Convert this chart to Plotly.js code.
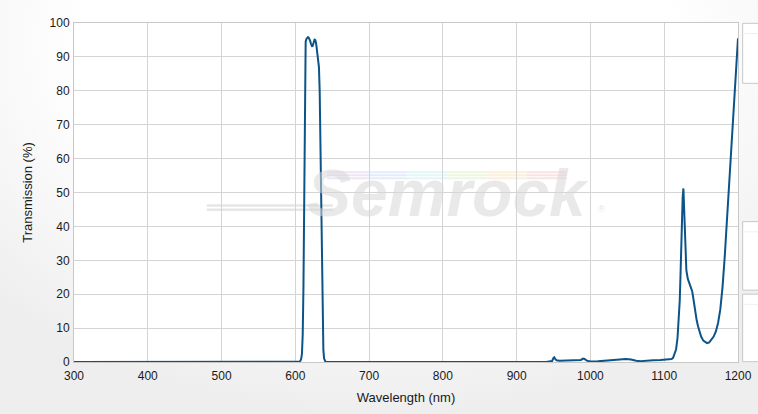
<!DOCTYPE html>
<html>
<head>
<meta charset="utf-8">
<script src="https://cdn.plot.ly/plotly-3.0.1.min.js"></script>
<style>
  html, body { margin: 0; padding: 0; }
  body {
    width: 758px; height: 414px; overflow: hidden;
    background: radial-gradient(ellipse 70% 90% at 50% 10%, #ffffff 55%, #eeeeee 100%);
  }
  #chart { width: 758px; height: 414px; }
</style>
</head>
<body>
<div id="chart"></div>
<script>
// Wavelength (nm)
const wavelength = [
  300, 600, 604, 606, 607, 608, 609, 610, 611, 612, 613, 614, 615, 616, 617, 618, 619, 620,
  621, 622, 623, 624, 625, 626, 627, 628, 629, 630, 631, 632, 633, 634, 635, 636, 637, 638,
  639, 640, 641, 940, 945, 948, 950, 951, 952, 954, 958, 965, 975, 982, 987, 990, 992, 995,
  1000, 1010, 1020, 1030, 1040, 1048, 1055, 1062, 1068, 1075, 1085, 1095, 1102, 1106, 1110,
  1112, 1114, 1116, 1118, 1120, 1121, 1122, 1123, 1124, 1125, 1126, 1127, 1128, 1129, 1130,
  1132, 1134, 1136, 1138, 1140, 1142, 1144, 1146, 1148, 1150, 1153, 1156, 1158, 1161, 1164,
  1167, 1170, 1173, 1176, 1179, 1182, 1185, 1188, 1191, 1194, 1197, 1200
];
// Transmission (%)
const transmission = [
  0, 0, 0, 0.1, 0.4, 1.0, 2.5, 8, 22, 55, 88, 94.5, 95.3, 95.6, 95.8, 95.7, 95.3, 94.8,
  94.0, 93.3, 93.0, 93.6, 94.6, 95.1, 95.0, 94.2, 92.5, 90.8, 88.8, 87.0, 80, 64, 46, 27, 11, 3.5,
  1.0, 0.3, 0, 0, 0.05, 0.3, 1.2, 1.4, 1.0, 0.5, 0.35, 0.4, 0.5, 0.45, 0.6, 1.0, 0.9, 0.4,
  0.15, 0.2, 0.35, 0.5, 0.75, 0.9, 0.75, 0.35, 0.25, 0.4, 0.55, 0.6, 0.7, 0.8, 0.9,
  1.2, 2.2, 3.7, 7, 13, 18, 25, 34, 42, 48.5, 51.2, 46, 38, 31, 27,
  24.5, 23.3, 22.4, 20.8, 18, 14.8, 12.3, 10.4, 8.7, 7.5, 6.3, 5.7, 5.55, 5.8, 6.5,
  7.5, 9, 11.5, 15.5, 22, 31, 42, 53, 63.5, 74.5, 85, 95.5
];
const xTicks = [300, 400, 500, 600, 700, 800, 900, 1000, 1100, 1200];
const yTicks = [0, 10, 20, 30, 40, 50, 60, 70, 80, 90, 100];
const xTitle = 'Wavelength (nm)';
const yTitle = 'Transmission (%)';
const watermark = 'Semrock';

const gridColor = '#d4d4d4';
const font = { family: '"Liberation Sans", Arial, sans-serif', size: 12, color: '#1a1a1a' };
const titleFont = { family: '"Liberation Sans", Arial, sans-serif', size: 13, color: '#1a1a1a' };

// Decorative shapes (watermark stripes and right-side panels)
const shapes = [];
// grey swoosh lines left of the watermark
[[0.462, 0.20, 0.39], [0.449, 0.20, 0.39]].forEach(([y, x0, x1]) => {
  shapes.push({ type: 'line', xref: 'paper', yref: 'paper', x0, x1, y0: y, y1: y,
    line: { color: '#e6e6e6', width: 2.5 }, layer: 'below' });
});
// pale rainbow stripes above the watermark
const rainbow = ['#efe4f4', '#e4ecfa', '#e3f6f6', '#eef6e0', '#faf0dc', '#f9e3e3'];
[0.560, 0.551, 0.542].forEach((y) => {
  const x0 = 0.381, x1 = 0.742, n = rainbow.length;
  rainbow.forEach((c, i) => {
    shapes.push({ type: 'line', xref: 'paper', yref: 'paper',
      x0: x0 + (x1 - x0) * i / n, x1: x0 + (x1 - x0) * (i + 1) / n, y0: y, y1: y,
      line: { color: c, width: 2 }, layer: 'below' });
  });
});
// right-side panel boxes
[[0.822, 0.999], [0.212, 0.414], [0.001, 0.200]].forEach(([y0, y1]) => {
  shapes.push({ type: 'rect', xref: 'paper', yref: 'paper', x0: 1.007, x1: 1.04, y0, y1,
    fillcolor: '#ffffff', line: { color: '#c8c8c8', width: 1 }, layer: 'above' });
  shapes.push({ type: 'line', xref: 'paper', yref: 'paper', x0: 1.009, x1: 1.04,
    y0: y1 - 0.03, y1: y1 - 0.03, line: { color: '#f0f0f0', width: 1 }, layer: 'above' });
});

const trace = {
  x: wavelength, y: transmission, type: 'scatter', mode: 'lines',
  line: { color: '#0c5488', width: 2 }, hoverinfo: 'x+y'
};

const layout = {
  width: 758, height: 414,
  margin: { l: 74, r: 20, t: 23, b: 52 },
  paper_bgcolor: 'rgba(0,0,0,0)',
  plot_bgcolor: '#ffffff',
  font: font,
  showlegend: false,
  xaxis: {
    range: [300, 1200], tickvals: xTicks, ticktext: xTicks.map(String),
    showgrid: true, gridcolor: gridColor, gridwidth: 1,
    showline: true, linecolor: '#c8c8c8', linewidth: 1, mirror: true,
    zeroline: false, ticks: '', ticklen: 0, ticklabelstandoff: 3,
    tickfont: font,
    title: { text: xTitle, font: titleFont, standoff: 10 }
  },
  yaxis: {
    range: [0, 100], tickvals: yTicks, ticktext: yTicks.map(String),
    showgrid: true, gridcolor: gridColor, gridwidth: 1,
    showline: true, linecolor: '#c8c8c8', linewidth: 1, mirror: true,
    zeroline: false, ticks: '', ticklen: 0, ticklabelstandoff: 1,
    tickfont: font,
    title: { text: yTitle, font: titleFont, standoff: 14 }
  },
  shapes: shapes,
  annotations: [
    { xref: 'paper', yref: 'paper', x: 0.563, y: 0.499, xanchor: 'center', yanchor: 'middle',
      text: '<b><i>' + watermark + '</i></b>', showarrow: false,
      font: { family: '"Liberation Sans", Arial, sans-serif', size: 66, color: 'rgba(215,215,215,0.55)' } },
    { xref: 'paper', yref: 'paper', x: 0.795, y: 0.45, xanchor: 'center', yanchor: 'middle',
      text: '®', showarrow: false,
      font: { family: '"Liberation Sans", Arial, sans-serif', size: 9, color: 'rgba(215,215,215,0.7)' } }
  ]
};

Plotly.newPlot('chart', [trace], layout, { displayModeBar: false, staticPlot: true });
</script>
</body>
</html>
